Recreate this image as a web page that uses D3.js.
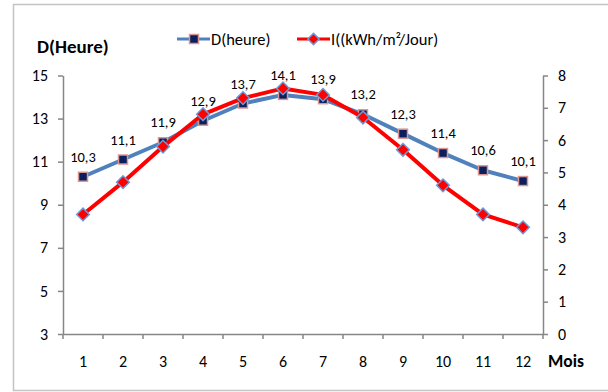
<html>
<head>
<script src="https://cdn.jsdelivr.net/npm/d3@7"></script>
<style>
  body { margin:0; background:#fff; overflow:hidden; }
  svg { display:block; }
  text { font-family: Calibri, Carlito, Lato, "Open Sans", sans-serif; fill:#000; }
  .axis path, .axis line { stroke:#868686; stroke-width:1.5px; }
</style>
</head>
<body>
<script>
// donnees
var mois = [1,2,3,4,5,6,7,8,9,10,11,12];
var duree = [10.3,11.1,11.9,12.9,13.7,14.1,13.9,13.2,12.3,11.4,10.6,10.1];
var irradiation = [3.7,4.7,5.8,6.8,7.3,7.6,7.4,6.7,5.7,4.6,3.7,3.3];
var ticksGauche = [3,5,7,9,11,13,15];
var ticksDroite = [0,1,2,3,4,5,6,7,8];
var nomSerie1 = "D(heure)", nomSerie2 = "I((kWh/m\u00b2/Jour)";

var W = 608, H = 392;
var plot = {left:63, right:543, top:75.5, bottom:334};

var svg = d3.select("body").append("svg").attr("width",W).attr("height",H);

// cadre
svg.append("rect").attr("x",13.5).attr("y",4.5).attr("width",W).attr("height",386)
   .attr("fill","none").attr("stroke","#c4c4c4").attr("stroke-width",1.5);

var x = d3.scaleBand().domain(mois).range([plot.left,plot.right]);
var yG = d3.scaleLinear().domain([3,15]).range([plot.bottom,plot.top]);
var yD = d3.scaleLinear().domain([0,8]).range([plot.bottom,plot.top]);

// axes
var axeG = svg.append("g").attr("class","axis").attr("transform","translate("+plot.left+",0)")
  .call(d3.axisLeft(yG).tickValues(ticksGauche).tickSize(5).tickPadding(10).tickSizeOuter(0));
var axeD = svg.append("g").attr("class","axis").attr("transform","translate("+plot.right+",0)")
  .call(d3.axisRight(yD).tickValues(ticksDroite).tickSize(5).tickPadding(10).tickSizeOuter(0));
var axeX = svg.append("g").attr("class","axis").attr("transform","translate(0,"+plot.bottom+")")
  .call(d3.axisBottom(x).tickSize(0).tickPadding(22));
// graduations entre les mois
axeX.selectAll(".sep").data(d3.range(13)).enter().append("line")
  .attr("x1",function(i){return plot.left+i*x.step();})
  .attr("x2",function(i){return plot.left+i*x.step();})
  .attr("y1",0).attr("y2",5);
svg.selectAll(".axis text").style("font-size","16px").style("font-family","Calibri, Carlito, Lato, sans-serif");

// series
var cx = function(d,i){return x(mois[i])+x.bandwidth()/2;};
var ligneD = d3.line().x(cx).y(function(d){return yG(d);});
var ligneI = d3.line().x(cx).y(function(d){return yD(d);});

svg.append("path").datum(duree).attr("d",ligneD)
  .attr("fill","none").attr("stroke","#4F81BD").attr("stroke-width",4).attr("stroke-linejoin","round");
svg.selectAll(".carre").data(duree).enter().append("rect")
  .attr("x",function(d,i){return cx(d,i)-4.5;}).attr("y",function(d){return yG(d)-4.5;})
  .attr("width",9).attr("height",9)
  .attr("fill","#0A1F5C").attr("stroke","#D99694").attr("stroke-width",1.5);

svg.append("path").datum(irradiation).attr("d",ligneI)
  .attr("fill","none").attr("stroke","#FF0000").attr("stroke-width",4).attr("stroke-linejoin","round");
svg.selectAll(".losange").data(irradiation).enter().append("path")
  .attr("transform",function(d,i){return "translate("+cx(d,i)+","+yD(d)+") rotate(45)";})
  .attr("d","M-4.5,-4.5h9v9h-9z")
  .attr("fill","#FF0000").attr("stroke","#6A9BD8").attr("stroke-width",1.5);

// etiquettes de donnees
svg.selectAll(".etiq").data(duree).enter().append("text")
  .attr("x",cx).attr("y",function(d){return yG(d)-15;})
  .attr("text-anchor","middle").style("font-size","14.5px")
  .text(function(d){return String(d).replace(".",",");});

// titres
svg.append("text").attr("x",37).attr("y",53).style("font-size","19px").style("font-weight","bold").text("D(Heure)");
svg.append("text").attr("x",548).attr("y",367).style("font-size","17.5px").style("font-weight","bold").text("Mois");

// legende
var leg = [
  {nom:nomSerie1, x:177, couleur:"#4F81BD"},
  {nom:nomSerie2, x:297, couleur:"#FF0000"}
];
var g = svg.selectAll(".leg").data(leg).enter().append("g")
  .attr("transform",function(d){return "translate("+d.x+",39)";});
g.append("line").attr("x1",0).attr("x2",33).attr("y1",0).attr("y2",0)
  .attr("stroke",function(d){return d.couleur;}).attr("stroke-width",3);
g.filter(function(d,i){return i==0;}).append("rect")
  .attr("x",12.5).attr("y",-4.5).attr("width",9).attr("height",9)
  .attr("fill","#0A1F5C").attr("stroke","#D99694").attr("stroke-width",1.5);
g.filter(function(d,i){return i==1;}).append("path")
  .attr("transform","translate(16.5,0) rotate(45)").attr("d","M-4,-4h8v8h-8z")
  .attr("fill","#FF0000").attr("stroke","#6A9BD8").attr("stroke-width",1.5);
g.append("text").attr("x",34).attr("y",5.5).style("font-size","16.5px").text(function(d){return d.nom;});
</script>
</body>
</html>
